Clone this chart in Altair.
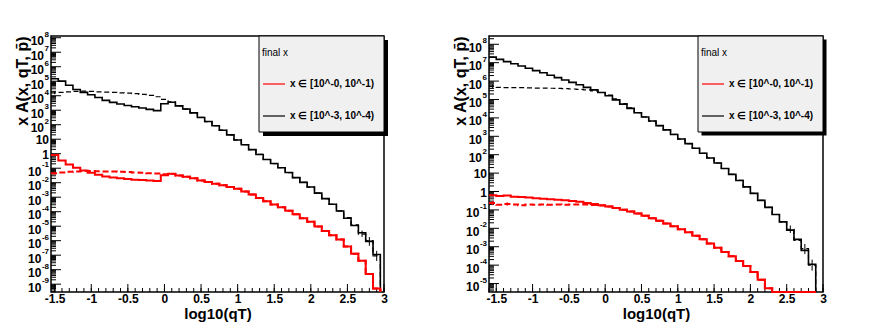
import altair as alt
import pandas as pd

# ---------------- data: log10 of the bin contents ----------------
BIN_WIDTH = 0.1
LEFT_FIRST_EDGE = -1.55
RIGHT_FIRST_EDGE = -1.6

left_black_solid = [5.17, 5.01, 4.72, 4.43, 4.23, 4.07, 3.88, 3.68, 3.54, 3.43, 3.33, 3.24, 3.15, 3.06, 2.97,
                    3.45, 3.55, 3.30, 3.08, 2.82, 2.50, 2.22, 1.93, 1.62, 1.30, 0.95, 0.62, 0.28, -0.05, -0.40,
                    -0.68, -0.97, -1.30, -1.65, -1.98, -2.30, -2.72, -3.10, -3.49, -3.95, -4.45, -4.95, -5.45,
                    -6.05, -6.95]
left_black_dashed = [4.20, 4.23, 4.27, 4.30, 4.32, 4.30, 4.27, 4.25, 4.23, 4.20, 4.18, 4.14, 4.09, 4.02, 3.93,
                     3.75, 3.58, 3.30, 3.08, 2.82, 2.50, 2.22, 1.93, 1.62, 1.30, 0.95, 0.62, 0.28, -0.05, -0.40,
                     -0.68, -0.97, -1.30, -1.65, -1.98, -2.30, -2.72, -3.10, -3.49, -3.95, -4.40, -4.90, -5.55,
                     -6.00, -7.05]
left_red_solid = [-0.09, -0.46, -0.74, -0.97, -1.15, -1.31, -1.45, -1.57, -1.64, -1.70, -1.75, -1.80, -1.82,
                  -1.84, -1.89, -1.48, -1.38, -1.50, -1.59, -1.70, -1.84, -1.96, -2.07, -2.18, -2.29, -2.42,
                  -2.60, -2.82, -3.05, -3.28, -3.50, -3.70, -3.93, -4.18, -4.45, -4.70, -5.02, -5.33, -5.62,
                  -5.92, -6.40, -6.90, -7.38, -8.30, -9.30]
left_red_dashed = [-1.35, -1.30, -1.25, -1.22, -1.20, -1.20, -1.21, -1.22, -1.23, -1.25, -1.27, -1.29, -1.31,
                   -1.34, -1.37, -1.42, -1.40, -1.50, -1.59, -1.70, -1.84, -1.96, -2.07, -2.18, -2.29, -2.42,
                   -2.60, -2.82, -3.05, -3.28, -3.50, -3.70, -3.93, -4.18, -4.45, -4.70, -5.02, -5.33, -5.62,
                   -5.92, -6.40, -6.90, -7.38, -8.30, -9.30]

right_black_solid = [7.30, 7.18, 7.06, 6.94, 6.82, 6.70, 6.57, 6.45, 6.32, 6.19, 6.06, 5.93, 5.80, 5.66, 5.52,
                     5.38, 5.20, 4.98, 4.75, 4.52, 4.28, 4.05, 3.83, 3.58, 3.35, 3.10, 2.85, 2.60, 2.35, 2.08,
                     1.82, 1.55, 1.25, 0.93, 0.60, 0.25, -0.10, -0.48, -0.86, -1.25, -1.65, -2.10, -2.60,
                     -3.20, -3.95]
right_black_dashed = [5.72, 5.66, 5.64, 5.65, 5.64, 5.63, 5.62, 5.62, 5.61, 5.60, 5.59, 5.57, 5.55, 5.52, 5.47,
                      5.38, 5.24, 5.03, 4.78, 4.55, 4.28, 4.05, 3.83, 3.58, 3.35, 3.10, 2.85, 2.60, 2.35, 2.08,
                      1.82, 1.55, 1.25, 0.93, 0.60, 0.25, -0.10, -0.48, -0.86, -1.25, -1.65, -2.05, -2.65,
                      -3.10, -4.00]
right_red_solid = [-0.20, -0.25, -0.22, -0.28, -0.30, -0.33, -0.36, -0.39, -0.42, -0.45, -0.48, -0.52, -0.56,
                   -0.62, -0.68, -0.74, -0.82, -0.90, -0.99, -1.09, -1.20, -1.32, -1.45, -1.59, -1.74, -1.89,
                   -2.05, -2.22, -2.40, -2.60, -2.82, -3.05, -3.28, -3.52, -3.78, -4.05, -4.38, -4.80, -5.25,
                   -6.0, -6.0, -6.0, -6.0, -6.0, -6.0]
right_red_dashed = [-0.62, -0.72, -0.68, -0.70, -0.74, -0.70, -0.72, -0.71, -0.72, -0.71, -0.72, -0.71, -0.71,
                    -0.71, -0.73, -0.76, -0.82, -0.90, -0.99, -1.09, -1.20, -1.32, -1.45, -1.59, -1.74, -1.89,
                    -2.05, -2.22, -2.40, -2.60, -2.82, -3.05, -3.28, -3.52, -3.78, -4.05, -4.38, -4.80, -5.25,
                    -6.0, -6.0, -6.0, -6.0, -6.0, -6.0]

# error crosses visible on the dashed histograms: (bin centre, log10 low, log10 high, colour)
left_error_bars = [(-1.5, 4.10, 4.32, "black"), (-1.5, -1.45, -1.25, "red"),
                   (2.7, -5.75, -5.30, "black"), (2.8, -6.35, -5.75, "black"), (2.9, -7.40, -6.70, "black")]
right_error_bars = [(-1.55, 5.62, 5.82, "black"), (-1.55, -0.74, -0.52, "red"), (-1.35, -0.78, -0.58, "red"),
                    (2.55, -2.25, -1.85, "black"), (2.75, -3.40, -2.85, "black"), (2.85, -4.30, -3.70, "black")]

x_tick_labels = [-1.5, -1, -0.5, 0, 0.5, 1, 1.5, 2, 2.5, 3]
legend_title = "final x"
legend_labels = ["x \u2208 [10^-0, 10^-1)", "x \u2208 [10^-3, 10^-4)"]
y_title = "x A(x, qT, p\u0304)"
x_title = "log10(qT)"

# ---------------- helpers ----------------
FONT = "Liberation Sans"
BASE_FS, EXP_FS = 12, 8


def hist_df(first_edge, logs):
    rows = []
    n = len(logs)
    for i, v in enumerate(logs):
        rows.append({"x": round(first_edge + i * BIN_WIDTH, 4), "y": 10 ** v, "i": i})
    end = round(first_edge + n * BIN_WIDTH, 4)
    rows.append({"x": end, "y": 10 ** logs[-1], "i": n})
    rows.append({"x": end, "y": 1e-30, "i": n + 1})
    return pd.DataFrame(rows)


def panel(xdom, ylog, series, errs, W, H, lg):
    ymin, ymax = 10 ** ylog[0], 10 ** ylog[1]
    xs = alt.Scale(domain=xdom, nice=False, zero=False)
    ys = alt.Scale(type="log", domain=[ymin, ymax], nice=False, clamp=True)
    xaxis = alt.Axis(values=x_tick_labels, labelExpr="datum.value + ''", ticks=False, domain=False,
                     grid=False, labelFont=FONT, labelFontSize=12, labelFontWeight="bold",
                     labelColor="black", labelPadding=1, labelFlush=False, labelOverlap=False,
                     title=x_title, titleFont=FONT, titleFontSize=15, titleFontWeight="bold",
                     titleColor="black", titlePadding=2)
    k_lo, k_hi = int(ylog[0]) - 1, int(ylog[1]) + 1
    ks = [k for k in range(k_lo, k_hi + 1) if ymin <= 10.0 ** k <= ymax]
    decades = [10.0 ** k for k in ks]
    yaxis = alt.Axis(values=decades, labels=False, ticks=False, domain=False, grid=False,
                     title=y_title, titleFont=FONT, titleFontSize=16, titleFontWeight="bold",
                     titleColor="black", titleAnchor="end", titleX=-24, titleY=0,
                     titleBaseline="alphabetic", titleAlign="right", titleAngle=270)
    X = alt.X("x:Q", scale=xs, axis=xaxis)
    Y = alt.Y("y:Q", scale=ys, axis=yaxis)

    # inward ticks
    minor_y = [m * 10.0 ** k for k in range(k_lo, k_hi + 1) for m in range(2, 10) if ymin <= m * 10.0 ** k <= ymax]
    xt = [round(-1.6 + 0.1 * j, 2) for j in range(0, 47)]
    minor_x = [v for v in xt if xdom[0] <= v <= xdom[1] + 1e-9]
    major_x = [v for v in x_tick_labels if xdom[0] <= v <= xdom[1]]
    one = pd.DataFrame({"a": [0]})

    layers = [
        alt.Chart(pd.DataFrame({"y": decades})).mark_rule(color="black", strokeWidth=1).encode(
            y=Y, x=alt.value(0), x2=alt.value(10)),
        alt.Chart(pd.DataFrame({"y": minor_y})).mark_rule(color="black", strokeWidth=1).encode(
            y=Y, x=alt.value(0), x2=alt.value(5)),
        alt.Chart(pd.DataFrame({"x": major_x})).mark_rule(color="black", strokeWidth=1).encode(
            x=X, y=alt.value(H), y2=alt.value(H - 8)),
        alt.Chart(pd.DataFrame({"x": minor_x})).mark_rule(color="black", strokeWidth=1).encode(
            x=X, y=alt.value(H), y2=alt.value(H - 4)),
    ]

    # y labels: "10" with a raised exponent, as in the reference
    plain = [(10.0 ** k, "1" if k == 0 else "10") for k in ks if k in (0, 1)]
    exp1 = [(10.0 ** k, "10", str(k)) for k in ks if k not in (0, 1) and len(str(k)) == 1]
    exp2 = [(10.0 ** k, "10", str(k)) for k in ks if len(str(k)) == 2]
    exps = exp1 + exp2
    txt = dict(align="right", baseline="middle", font=FONT, fontWeight="bold", color="black")
    layers += [
        alt.Chart(pd.DataFrame({"y": [p[0] for p in plain], "t": [p[1] for p in plain]})).mark_text(
            fontSize=BASE_FS, dy=1, **txt).encode(y=Y, x=alt.value(-2), text="t:N"),
        alt.Chart(pd.DataFrame({"y": [p[0] for p in exp1], "t": [p[1] for p in exp1]})).mark_text(
            fontSize=BASE_FS, dy=3.5, **txt).encode(y=Y, x=alt.value(-2 - 5.0), text="t:N"),
        alt.Chart(pd.DataFrame({"y": [p[0] for p in exp2], "t": [p[1] for p in exp2]})).mark_text(
            fontSize=BASE_FS, dy=3.5, **txt).encode(y=Y, x=alt.value(-2 - 7.6), text="t:N"),
        alt.Chart(pd.DataFrame({"y": [p[0] for p in exps], "t": [p[2] for p in exps]})).mark_text(
            fontSize=EXP_FS, dy=-3, **txt).encode(y=Y, x=alt.value(-2), text="t:N"),
    ]

    for logs, color, width, dash in series:
        kw = dict(interpolate="step-after", color=color, strokeWidth=width)
        if dash:
            kw["strokeDash"] = dash
        layers.append(alt.Chart(hist_df(lg["first_edge"], logs)).mark_line(**kw).encode(
            x=X, y=Y, order="i:Q"))

    # error crosses
    edf = pd.DataFrame([{"x": c, "y": 10 ** lo, "y2": 10 ** hi, "col": col} for c, lo, hi, col in errs])
    layers.append(alt.Chart(edf).mark_rule(strokeWidth=1).encode(
        x=X, y=Y, y2="y2:Q", color=alt.Color("col:N", scale=None)))

    bx0, bx1, by0, by1, sh = lg["box"]
    layers += [
        alt.Chart(one).mark_rect(fill="black").encode(
            x=alt.value(bx0 + sh), x2=alt.value(bx1 + sh), y=alt.value(by0 + sh), y2=alt.value(by1 + sh)),
        alt.Chart(one).mark_rect(fill="#f0f0f0", stroke="black", strokeWidth=1).encode(
            x=alt.value(bx0), x2=alt.value(bx1), y=alt.value(by0), y2=alt.value(by1)),
        alt.Chart(one).mark_text(text=legend_title, align="left", baseline="middle", font=FONT,
                                 fontSize=10, color="black").encode(
            x=alt.value(bx0 + 3), y=alt.value(17)),
    ]
    for j, (lab, col) in enumerate(zip(legend_labels, ["#ff0000", "black"])):
        yy = 48 + 32 * j
        layers += [
            alt.Chart(one).mark_rule(color=col, strokeWidth=1.2).encode(
                x=alt.value(bx0 + 4), x2=alt.value(bx0 + 26), y=alt.value(yy)),
            alt.Chart(one).mark_text(text=lab, align="left", baseline="middle", font=FONT, fontSize=10,
                                     fontWeight="bold", color="black").encode(
                x=alt.value(bx0 + 31), y=alt.value(yy)),
        ]
    return alt.layer(*layers).properties(width=W, height=H)


RED, BLACK = "#ff0000", "#000000"
left = panel([-1.55, 3.0], (-9.54, 8.12),
             [(left_black_dashed, BLACK, 1.2, [5, 3]), (left_black_solid, BLACK, 1.6, None),
              (left_red_dashed, RED, 2, [6, 3]), (left_red_solid, RED, 2, None)],
             [(c, lo, hi, "#ff0000" if col == "red" else "#000000") for c, lo, hi, col in left_error_bars],
             333, 256, {"first_edge": LEFT_FIRST_EDGE, "box": (208, 333, 0, 96, 4)})
right = panel([-1.6, 3.0], (-5.46, 8.45),
              [(right_black_dashed, BLACK, 1.2, [5, 3]), (right_black_solid, BLACK, 1.6, None),
               (right_red_dashed, RED, 2, [6, 3]), (right_red_solid, RED, 2, None)],
              [(c, lo, hi, "#ff0000" if col == "red" else "#000000") for c, lo, hi, col in right_error_bars],
              334, 256, {"first_edge": RIGHT_FIRST_EDGE, "box": (209, 334, 0, 96, 3.5)})

chart = alt.hconcat(left, right, spacing=62).properties(
    padding={"left": 5, "top": 21, "right": 5, "bottom": 2}, background="white"
).configure_view(stroke="black", strokeWidth=1.5)

chart.save("out.html", embed_options={"renderer": "svg", "actions": False})
